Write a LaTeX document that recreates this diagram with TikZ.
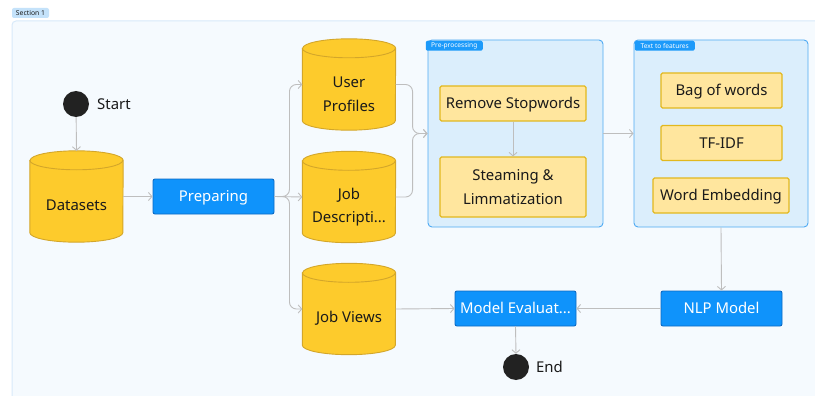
\documentclass[tikz,border=0pt]{standalone}
\usepackage{fontspec}
\setmainfont{Noto Sans}
\usetikzlibrary{arrows.meta,calc}

\definecolor{secbg}{HTML}{F5FAFE}
\definecolor{secline}{HTML}{D8EAFA}
\definecolor{sectagbg}{HTML}{C4E2FA}
\definecolor{contbg}{HTML}{DBEEFC}
\definecolor{contline}{HTML}{4FAAF3}
\definecolor{tagblue}{HTML}{1C9AFA}
\definecolor{actfill}{HTML}{0F93FB}
\definecolor{actline}{HTML}{0B69C4}
\definecolor{notefill}{HTML}{FFE69E}
\definecolor{noteline}{HTML}{E2B81E}
\definecolor{cylfill}{HTML}{FDCB2C}
\definecolor{cylline}{HTML}{D3A62A}
\definecolor{linkgray}{HTML}{BEBEBE}
\definecolor{ink}{HTML}{1A1A1A}
\definecolor{dotfill}{HTML}{222222}

\def\cylrx{46.5pt}
\def\cylry{9.5pt}

% database drum: box node (#1) at #2, caption node (#3) with text #4,
% #5 extra options for the caption
\newcommand\drum[5]{%
  \node[drumbox] (#1) at (#2) {};
  \filldraw[drumshape] ([yshift=-\cylry]#1.north west) -- ([yshift=\cylry]#1.south west)
    arc[start angle=180,end angle=360,x radius=\cylrx,y radius=\cylry]
    -- ([yshift=-\cylry]#1.north east)
    arc[start angle=0,end angle=180,x radius=\cylrx,y radius=\cylry] -- cycle;
  \draw[drumshape,fill=none] ([yshift=-\cylry]#1.north west)
    arc[start angle=180,end angle=360,x radius=\cylrx,y radius=\cylry];
  \node[drumtext,#5] (#3) at ([yshift=-8.5pt]#1.center) {#4};
}

\tikzset{
  basefont/.style={font=\fontsize{14.9}{23.5}\selectfont, text=ink},
  oneline/.style={text height=10.7pt, text depth=0pt},
  secframe/.style={fill=secbg, draw=secline, line width=1pt, rounded corners=4pt},
  sectag/.style={fill=sectagbg, rounded corners=2pt, inner sep=0pt,
    minimum width=37pt, minimum height=10pt, font=\fontsize{6.8}{7}\selectfont, text=ink},
  conttag/.style={fill=tagblue, rounded corners=2pt, inner sep=0pt,
    minimum height=10pt, font=\fontsize{6.6}{7}\selectfont, text=white, anchor=north west},
  container/.style={fill=contbg, draw=contline, line width=0.9pt, rounded corners=4pt,
    minimum width=175pt, minimum height=187pt, inner sep=0pt},
  act/.style={basefont, oneline, fill=actfill, draw=actline, line width=0.9pt, rounded corners=2pt,
    minimum width=121pt, minimum height=35pt, inner sep=0pt, text=white},
  note/.style={basefont, fill=notefill, draw=noteline, line width=1.1pt, rounded corners=1.5pt,
    minimum height=35pt, inner sep=0pt, align=center},
  drumbox/.style={minimum width=93pt, minimum height=91pt, inner sep=0pt, draw=none},
  drumshape/.style={fill=cylfill, draw=cylline, line width=0.9pt},
  drumtext/.style={basefont, align=center, inner sep=0pt},
  dot/.style={circle, fill=dotfill, minimum size=26pt, inner sep=0pt},
  plain/.style={basefont, oneline, inner sep=0pt},
  conn/.style={draw=linkgray, line width=0.9pt, rounded corners=7pt,
    -{Straight Barb[length=3.5pt,width=8pt]}},
}

\begin{document}
\begin{tikzpicture}[x=1pt,y=1pt]
\useasboundingbox (0,0) rectangle (815,-396);
\clip (0,0) rectangle (815,-396);
\fill[white] (0,0) rectangle (815,-396);

% section frame and its tag
\draw[secframe] (12,-21) rectangle (840,-420);
\node[sectag] (sectag) at (30.5,-13) {Section 1};

% start
\node[dot] (start) at (76,-104) {};
\node[plain, anchor=west] (startlbl) at (97,-104) {Start};

% data sources
\drum{ds}{76.5,-196.5}{dstxt}{Datasets}{oneline}
\node[act] (prep) at (213.5,-196.5) {Preparing};
\drum{up}{349,-84.5}{uptxt}{User\\Profiles}{yshift=-1.5pt}
\drum{jd}{349,-197}{jdtxt}{Job\\Descripti...}{yshift=-1.5pt}
\drum{jv}{349,-309}{jvtxt}{Job Views}{oneline}

% pre-processing group
\node[container] (pre) at (515.5,-133.5) {};
\node[conttag, minimum width=57pt] (pretag) at ([xshift=-2pt,yshift=-1pt]pre.north west) {Pre-processing};
\node[note, oneline, minimum width=146pt] (rs) at (513,-103.5) {Remove Stopwords};
\node[note, minimum width=146pt, minimum height=60pt] (st) at (513,-187) {Steaming \&\\Limmatization};

% text to features group
\node[container, minimum width=174pt] (tf) at (721,-133.5) {};
\node[conttag, minimum width=60pt] (tftag) at ([xshift=1pt,yshift=-1pt]tf.north west) {Text to features};
\node[note, oneline, minimum width=121pt] (bow) at (721.5,-90.5) {Bag of words};
\node[note, oneline, minimum width=121pt] (tfidf) at (721.5,-143) {TF-IDF};
\node[note, oneline, minimum width=136pt] (we) at (721,-195.5) {Word Embedding};

% model and evaluation
\node[act] (nlp) at (721.5,-308.5) {NLP Model};
\node[act] (me) at (515.5,-308.5) {Model Evaluat...};
\node[dot] (end) at (516,-367) {};
\node[plain, anchor=west] (endlbl) at (536,-367) {End};

% connectors
\draw[conn] (start) -- (ds.north);
\draw[conn] (ds.east) -- (prep.west);
\coordinate (fork) at ($(prep.east)+(15,0)$);
\draw[conn] (prep.east) -- (fork) |- (up.west);
\draw[conn] (prep.east) -- (jd.west);
\draw[conn] (prep.east) -- (fork) |- (jv.west);
\draw[conn] (up.east) -| ([xshift=-15pt]pre.west) -- (pre.west);
\draw[conn] (jd.east) -| ([xshift=-15pt]pre.west) -- (pre.west);
\draw[conn] (rs.south) -- (st.north);
\draw[conn] (pre.east) -- (tf.west);
\draw[conn] (tf.south) -- (nlp.north);
\draw[conn] (nlp.west) -- (me.east);
\draw[conn] (jv.east) -- (me.west);
\draw[conn] (me.south) -- (end.north);
\end{tikzpicture}
\end{document}
